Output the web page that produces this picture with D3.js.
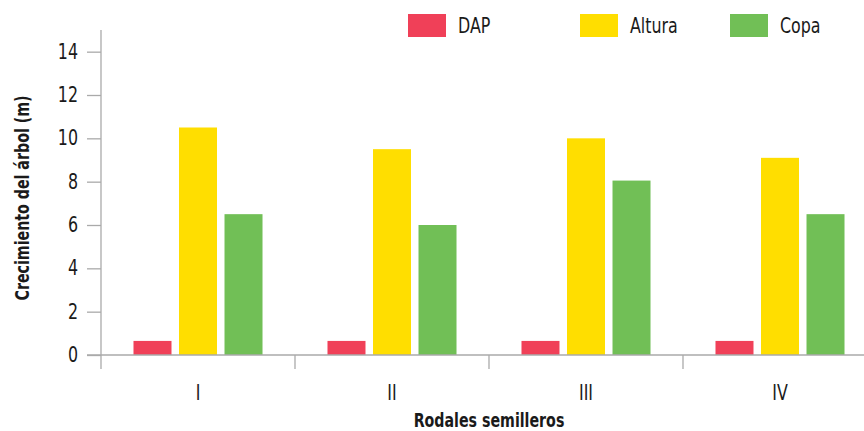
<!DOCTYPE html>
<html><head><meta charset="utf-8">
<script src="https://cdn.jsdelivr.net/npm/d3@7"></script>
<style>
body{margin:0;background:#fff;}
text{font-family:"DejaVu Sans Condensed","DejaVu Sans",sans-serif;font-stretch:condensed;fill:#1a1a1a;}
</style></head>
<body>
<svg id="c" width="864" height="431"></svg>
<script>
const categories = ["I","II","III","IV"];
const seriesNames = ["DAP","Altura","Copa"];
const dap = [0.65,0.65,0.65,0.65];
const altura = [10.5,9.5,10.0,9.1];
const copa = [6.5,6.0,8.05,6.5];
const yTicks = [0,2,4,6,8,10,12,14];
const colors = ["#F04058","#FFDE00","#71BF56"];
const values = [dap, altura, copa];

const svg = d3.select("#c");
const axisColor = "#aaaaaa";
const mLeft = 101, mRight = 877, mTop = 30, mBottom = 355;
const SQ = 0.86, SQB = 0.81;

// horizontally narrow text to mimic a condensed face
function squeeze(sel, sx) {
  sel.each(function() {
    const t = d3.select(this);
    const ax = +t.attr("x") || 0, ay = +t.attr("y") || 0;
    const prev = t.attr("transform") || "";
    t.attr("x", 0).attr("y", 0)
     .attr("transform", `${prev} translate(${ax},${ay}) scale(${sx},1)`);
  });
}

const x = d3.scaleBand().domain(categories).range([mLeft, mRight]).padding(0);
const x1 = d3.scaleBand().domain(seriesNames).range([0, x.bandwidth()]).paddingInner(0.165).paddingOuter(0.714);
const y = d3.scaleLinear().domain([0, 15]).range([mBottom, mTop]);

// bars
seriesNames.forEach((s, si) => {
  svg.append("g").selectAll("rect").data(categories).join("rect")
    .attr("x", c => x(c) + x1(s))
    .attr("y", (c, i) => y(values[si][i]))
    .attr("width", x1.bandwidth())
    .attr("height", (c, i) => y(0) - y(values[si][i]))
    .attr("fill", colors[si]);
});

// y axis
const ya = svg.append("g").attr("transform", `translate(${mLeft},0)`)
  .call(d3.axisLeft(y).tickValues(yTicks).tickSize(14).tickSizeOuter(0).tickPadding(9));
ya.selectAll("path,line").attr("stroke", axisColor).attr("stroke-width", 1.3);
ya.selectAll("text").style("font-size", "20.5px").attr("fill", "#1a1a1a");
squeeze(ya.selectAll("text"), SQ);
ya.select(".domain").remove();
svg.append("line").attr("x1", mLeft).attr("x2", mLeft).attr("y1", mTop).attr("y2", mBottom)
  .attr("stroke", axisColor).attr("stroke-width", 1.3);

// x axis
svg.append("line").attr("x1", mLeft - 14).attr("x2", 864).attr("y1", mBottom).attr("y2", mBottom)
  .attr("stroke", axisColor).attr("stroke-width", 1.3);
const bounds = categories.map(c => x(c)).concat([x(categories[categories.length-1]) + x.step()]);
svg.append("g").selectAll("line").data(bounds).join("line")
  .attr("x1", d => d).attr("x2", d => d).attr("y1", mBottom).attr("y2", mBottom + 14)
  .attr("stroke", axisColor).attr("stroke-width", 1.3);
const xa = svg.append("g").attr("transform", `translate(0,${mBottom})`)
  .call(d3.axisBottom(x).tickSize(0).tickPadding(30));
xa.select(".domain").remove();
xa.selectAll("text").style("font-size", "20.5px").attr("fill", "#1a1a1a");
squeeze(xa.selectAll("text"), SQ);

// axis titles
const xt = svg.append("text").attr("x", (mLeft + mRight) / 2).attr("y", 427)
  .attr("text-anchor", "middle").style("font-size", "19.5px").style("font-weight", "bold")
  .text("Rodales semilleros");
squeeze(xt, SQB);
svg.append("text").attr("transform", `translate(29,198) rotate(-90) scale(${SQB},1)`)
  .attr("text-anchor", "middle").style("font-size", "19.5px").style("font-weight", "bold")
  .text("Crecimiento del árbol (m)");

// legend
const legendX = [408, 580, 730];
seriesNames.forEach((s, i) => {
  svg.append("rect").attr("x", legendX[i]).attr("y", 14).attr("width", 38).attr("height", 23).attr("fill", colors[i]);
  const lt = svg.append("text").attr("x", legendX[i] + 50).attr("y", 33).style("font-size", "20.5px").text(s);
  squeeze(lt, SQ);
});
</script>
</body></html>
